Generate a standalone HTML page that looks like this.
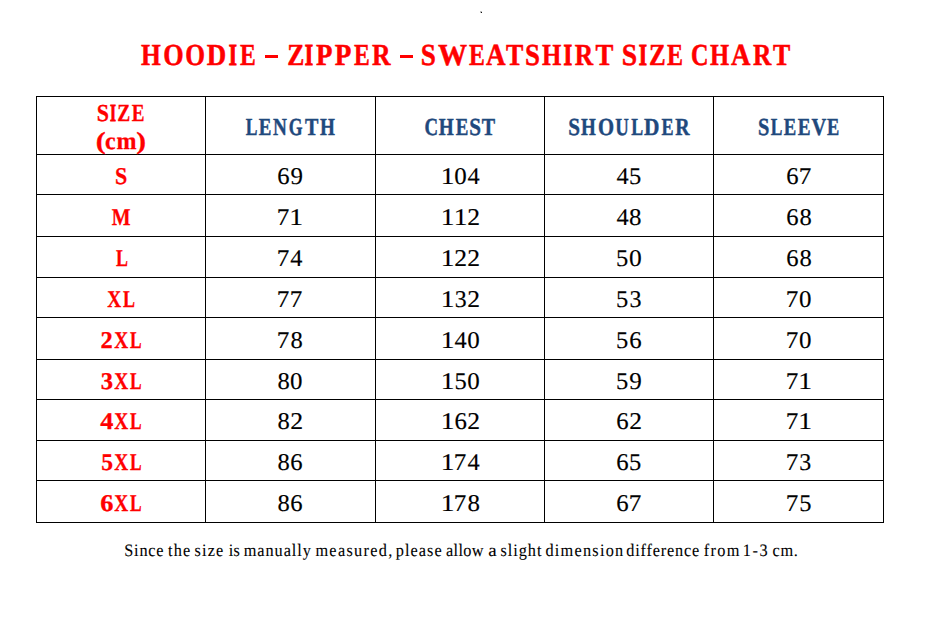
<!DOCTYPE html>
<html><head><meta charset="utf-8"><title>Hoodie Size Chart</title><style>html,body{margin:0;padding:0;background:#fff}body{position:relative;width:940px;height:623px;overflow:hidden;font-family:'Liberation Serif', serif;line-height:1;white-space:nowrap;text-rendering:geometricPrecision}body>div{position:absolute;transform-origin:0 0}.l{background:#000}</style></head><body>
<div style="left:480px;top:11px;width:2px;height:2px;background:#bbb"></div><div style="left:481px;top:12px;width:1px;height:1px;background:#111"></div><div style="left:265px;top:55px;width:13px;height:3px;background:#f00"></div><div style="left:400px;top:55px;width:13px;height:3px;background:#f00"></div>
<div class="l" style="left:36px;top:96px;width:1px;height:427px"></div>
<div class="l" style="left:205px;top:96px;width:1px;height:427px"></div>
<div class="l" style="left:375px;top:96px;width:1px;height:427px"></div>
<div class="l" style="left:544px;top:96px;width:1px;height:427px"></div>
<div class="l" style="left:713px;top:96px;width:1px;height:427px"></div>
<div class="l" style="left:883px;top:96px;width:1px;height:427px"></div>
<div class="l" style="left:36px;top:96px;width:848px;height:1px"></div>
<div class="l" style="left:36px;top:154px;width:848px;height:1px"></div>
<div class="l" style="left:36px;top:194px;width:848px;height:1px"></div>
<div class="l" style="left:36px;top:236px;width:848px;height:1px"></div>
<div class="l" style="left:36px;top:277px;width:848px;height:1px"></div>
<div class="l" style="left:36px;top:317px;width:848px;height:1px"></div>
<div class="l" style="left:36px;top:359px;width:848px;height:1px"></div>
<div class="l" style="left:36px;top:399px;width:848px;height:1px"></div>
<div class="l" style="left:36px;top:440px;width:848px;height:1px"></div>
<div class="l" style="left:36px;top:480px;width:848px;height:1px"></div>
<div class="l" style="left:36px;top:522px;width:848px;height:1px"></div>
<div style="left:141px;top:40px;font-size:30.5px;font-weight:bold;color:#ff0000;-webkit-text-stroke:0.5px #ff0000;transform:translateX(0.05px) scaleX(0.8349)">H</div>
<div style="left:163px;top:40px;font-size:30.5px;font-weight:bold;color:#ff0000;-webkit-text-stroke:0.5px #ff0000;transform:translateX(0.30px) scaleX(0.8591)">O</div>
<div style="left:185px;top:40px;font-size:30.5px;font-weight:bold;color:#ff0000;-webkit-text-stroke:0.5px #ff0000;transform:translateX(0.36px) scaleX(0.8332)">O</div>
<div style="left:206px;top:40px;font-size:30.5px;font-weight:bold;color:#ff0000;-webkit-text-stroke:0.5px #ff0000;transform:translateX(0.85px) scaleX(0.8838)">D</div>
<div style="left:228px;top:40px;font-size:30.5px;font-weight:bold;color:#ff0000;-webkit-text-stroke:1.1px #ff0000;transform:translateX(0.87px) scaleX(0.6862)">I</div>
<div style="left:240px;top:40px;font-size:30.5px;font-weight:bold;color:#ff0000;-webkit-text-stroke:0.5px #ff0000;transform:translateX(0.02px) scaleX(0.7744)">E</div>
<div style="left:287px;top:40px;font-size:30.5px;font-weight:bold;color:#ff0000;-webkit-text-stroke:0.5px #ff0000;transform:translateX(0.18px) scaleX(0.8407)">Z</div>
<div style="left:304px;top:40px;font-size:30.5px;font-weight:bold;color:#ff0000;-webkit-text-stroke:1.1px #ff0000;transform:translateX(0.72px) scaleX(0.7033)">I</div>
<div style="left:315px;top:40px;font-size:30.5px;font-weight:bold;color:#ff0000;-webkit-text-stroke:0.5px #ff0000;transform:translateX(0.88px) scaleX(0.8822)">P</div>
<div style="left:334px;top:40px;font-size:30.5px;font-weight:bold;color:#ff0000;-webkit-text-stroke:0.5px #ff0000;transform:translateX(0.87px) scaleX(0.8911)">P</div>
<div style="left:354px;top:40px;font-size:30.5px;font-weight:bold;color:#ff0000;-webkit-text-stroke:0.5px #ff0000;transform:scaleX(0.7738)">E</div>
<div style="left:371px;top:40px;font-size:30.5px;font-weight:bold;color:#ff0000;-webkit-text-stroke:0.5px #ff0000;transform:translateX(0.94px) scaleX(0.8416)">R</div>
<div style="left:420px;top:40px;font-size:30.5px;font-weight:bold;color:#ff0000;-webkit-text-stroke:0.5px #ff0000;transform:translateX(0.84px) scaleX(0.8896)">S</div>
<div style="left:437px;top:40px;font-size:30.5px;font-weight:bold;color:#ff0000;-webkit-text-stroke:0.5px #ff0000;transform:translateX(0.95px) scaleX(0.9534)">W</div>
<div style="left:468px;top:40px;font-size:30.5px;font-weight:bold;color:#ff0000;-webkit-text-stroke:0.5px #ff0000;transform:translateX(0.92px) scaleX(0.7781)">E</div>
<div style="left:485px;top:40px;font-size:30.5px;font-weight:bold;color:#ff0000;-webkit-text-stroke:0.5px #ff0000;transform:translateX(0.88px) scaleX(0.8907)">A</div>
<div style="left:505px;top:40px;font-size:30.5px;font-weight:bold;color:#ff0000;-webkit-text-stroke:0.5px #ff0000;transform:translateX(1.00px) scaleX(0.8509)">T</div>
<div style="left:524px;top:40px;font-size:30.5px;font-weight:bold;color:#ff0000;-webkit-text-stroke:0.5px #ff0000;transform:translateX(0.97px) scaleX(0.8791)">S</div>
<div style="left:542px;top:40px;font-size:30.5px;font-weight:bold;color:#ff0000;-webkit-text-stroke:0.5px #ff0000;transform:translateX(0.07px) scaleX(0.8136)">H</div>
<div style="left:563px;top:40px;font-size:30.5px;font-weight:bold;color:#ff0000;-webkit-text-stroke:1.1px #ff0000;transform:translateX(0.49px) scaleX(0.7293)">I</div>
<div style="left:574px;top:40px;font-size:30.5px;font-weight:bold;color:#ff0000;-webkit-text-stroke:0.5px #ff0000;transform:translateX(0.82px) scaleX(0.8362)">R</div>
<div style="left:595px;top:40px;font-size:30.5px;font-weight:bold;color:#ff0000;-webkit-text-stroke:0.5px #ff0000;transform:translateX(0.49px) scaleX(0.8770)">T</div>
<div style="left:621px;top:40px;font-size:30.5px;font-weight:bold;color:#ff0000;-webkit-text-stroke:0.5px #ff0000;transform:translateX(0.80px) scaleX(0.9063)">S</div>
<div style="left:638px;top:40px;font-size:30.5px;font-weight:bold;color:#ff0000;-webkit-text-stroke:1.1px #ff0000;transform:translateX(0.65px) scaleX(0.6948)">I</div>
<div style="left:649px;top:40px;font-size:30.5px;font-weight:bold;color:#ff0000;-webkit-text-stroke:0.5px #ff0000;transform:translateX(0.11px) scaleX(0.8189)">Z</div>
<div style="left:666px;top:40px;font-size:30.5px;font-weight:bold;color:#ff0000;-webkit-text-stroke:0.5px #ff0000;transform:translateX(0.92px) scaleX(0.7868)">E</div>
<div style="left:691px;top:40px;font-size:30.5px;font-weight:bold;color:#ff0000;-webkit-text-stroke:0.5px #ff0000;transform:translateX(0.07px) scaleX(0.7941)">C</div>
<div style="left:710px;top:40px;font-size:30.5px;font-weight:bold;color:#ff0000;-webkit-text-stroke:0.5px #ff0000;transform:translateX(0.08px) scaleX(0.8068)">H</div>
<div style="left:730px;top:40px;font-size:30.5px;font-weight:bold;color:#ff0000;-webkit-text-stroke:0.5px #ff0000;transform:translateX(0.88px) scaleX(0.8855)">A</div>
<div style="left:752px;top:40px;font-size:30.5px;font-weight:bold;color:#ff0000;-webkit-text-stroke:0.5px #ff0000;transform:translateX(0.97px) scaleX(0.8325)">R</div>
<div style="left:772px;top:40px;font-size:30.5px;font-weight:bold;color:#ff0000;-webkit-text-stroke:0.5px #ff0000;transform:translateX(0.92px) scaleX(0.8490)">T</div>
<div style="left:96px;top:102px;font-size:24.5px;font-weight:bold;color:#ff0000;-webkit-text-stroke:0.3px #ff0000;transform:translateX(0.75px) scaleX(0.8954)">S</div>
<div style="left:109px;top:102px;font-size:24.5px;font-weight:bold;color:#ff0000;-webkit-text-stroke:0.8999999999999999px #ff0000;transform:translateX(0.95px) scaleX(0.6274)">I</div>
<div style="left:117px;top:102px;font-size:24.5px;font-weight:bold;color:#ff0000;-webkit-text-stroke:0.3px #ff0000;transform:translateX(0.30px) scaleX(0.7955)">Z</div>
<div style="left:131px;top:102px;font-size:24.5px;font-weight:bold;color:#ff0000;-webkit-text-stroke:0.3px #ff0000;transform:translateX(0.83px) scaleX(0.7802)">E</div>
<div style="left:95px;top:130px;font-size:24.5px;font-weight:bold;color:#ff0000;-webkit-text-stroke:0.3px #ff0000;transform:translateX(0.74px) scaleX(1.2201)">(</div>
<div style="left:105px;top:130px;font-size:24.5px;font-weight:bold;color:#ff0000;-webkit-text-stroke:0.3px #ff0000;transform:translateX(0.10px) scaleX(0.9724)">c</div>
<div style="left:116px;top:130px;font-size:24.5px;font-weight:bold;color:#ff0000;-webkit-text-stroke:0.3px #ff0000;transform:translateX(0.46px) scaleX(0.9806)">m</div>
<div style="left:136px;top:130px;font-size:24.5px;font-weight:bold;color:#ff0000;-webkit-text-stroke:0.3px #ff0000;transform:translateX(0.13px) scaleX(1.1995)">)</div>
<div style="left:245px;top:116px;font-size:24.5px;font-weight:bold;color:#1f497d;-webkit-text-stroke:0.45px #1f497d;transform:translateX(0.81px) scaleX(0.7146)">L</div>
<div style="left:258px;top:116px;font-size:24.5px;font-weight:bold;color:#1f497d;-webkit-text-stroke:0.45px #1f497d;transform:translateX(0.87px) scaleX(0.7715)">E</div>
<div style="left:273px;top:116px;font-size:24.5px;font-weight:bold;color:#1f497d;-webkit-text-stroke:0.45px #1f497d;transform:translateX(0.06px) scaleX(0.7844)">N</div>
<div style="left:288px;top:116px;font-size:24.5px;font-weight:bold;color:#1f497d;-webkit-text-stroke:0.45px #1f497d;transform:translateX(0.87px) scaleX(0.7236)">G</div>
<div style="left:304px;top:116px;font-size:24.5px;font-weight:bold;color:#1f497d;-webkit-text-stroke:0.45px #1f497d;transform:translateX(0.88px) scaleX(0.8202)">T</div>
<div style="left:319px;top:116px;font-size:24.5px;font-weight:bold;color:#1f497d;-webkit-text-stroke:0.45px #1f497d;transform:translateX(0.99px) scaleX(0.7805)">H</div>
<div style="left:424px;top:116px;font-size:24.5px;font-weight:bold;color:#1f497d;-webkit-text-stroke:0.45px #1f497d;transform:translateX(0.56px) scaleX(0.7670)">C</div>
<div style="left:438px;top:116px;font-size:24.5px;font-weight:bold;color:#1f497d;-webkit-text-stroke:0.45px #1f497d;transform:translateX(0.81px) scaleX(0.7852)">H</div>
<div style="left:455px;top:116px;font-size:24.5px;font-weight:bold;color:#1f497d;-webkit-text-stroke:0.45px #1f497d;transform:translateX(0.71px) scaleX(0.7723)">E</div>
<div style="left:469px;top:116px;font-size:24.5px;font-weight:bold;color:#1f497d;-webkit-text-stroke:0.45px #1f497d;transform:translateX(0.14px) scaleX(0.8621)">S</div>
<div style="left:481px;top:116px;font-size:24.5px;font-weight:bold;color:#1f497d;-webkit-text-stroke:0.45px #1f497d;transform:translateX(0.76px) scaleX(0.8163)">T</div>
<div style="left:568px;top:116px;font-size:24.5px;font-weight:bold;color:#1f497d;-webkit-text-stroke:0.45px #1f497d;transform:translateX(0.14px) scaleX(0.8621)">S</div>
<div style="left:581px;top:116px;font-size:24.5px;font-weight:bold;color:#1f497d;-webkit-text-stroke:0.45px #1f497d;transform:translateX(0.12px) scaleX(0.7755)">H</div>
<div style="left:597px;top:116px;font-size:24.5px;font-weight:bold;color:#1f497d;-webkit-text-stroke:0.45px #1f497d;transform:translateX(0.95px) scaleX(0.8439)">O</div>
<div style="left:615px;top:116px;font-size:24.5px;font-weight:bold;color:#1f497d;-webkit-text-stroke:0.45px #1f497d;transform:translateX(0.18px) scaleX(0.7668)">U</div>
<div style="left:631px;top:116px;font-size:24.5px;font-weight:bold;color:#1f497d;-webkit-text-stroke:0.45px #1f497d;transform:translateX(0.19px) scaleX(0.7271)">L</div>
<div style="left:644px;top:116px;font-size:24.5px;font-weight:bold;color:#1f497d;-webkit-text-stroke:0.45px #1f497d;transform:translateX(0.07px) scaleX(0.8710)">D</div>
<div style="left:661px;top:116px;font-size:24.5px;font-weight:bold;color:#1f497d;-webkit-text-stroke:0.45px #1f497d;transform:translateX(0.45px) scaleX(0.7363)">E</div>
<div style="left:675px;top:116px;font-size:24.5px;font-weight:bold;color:#1f497d;-webkit-text-stroke:0.45px #1f497d;transform:translateX(0.25px) scaleX(0.8106)">R</div>
<div style="left:758px;top:116px;font-size:24.5px;font-weight:bold;color:#1f497d;-webkit-text-stroke:0.45px #1f497d;transform:translateX(0.11px) scaleX(0.8330)">S</div>
<div style="left:770px;top:116px;font-size:24.5px;font-weight:bold;color:#1f497d;-webkit-text-stroke:0.45px #1f497d;transform:translateX(0.73px) scaleX(0.7111)">L</div>
<div style="left:783px;top:116px;font-size:24.5px;font-weight:bold;color:#1f497d;-webkit-text-stroke:0.45px #1f497d;transform:translateX(0.82px) scaleX(0.7616)">E</div>
<div style="left:797px;top:116px;font-size:24.5px;font-weight:bold;color:#1f497d;-webkit-text-stroke:0.45px #1f497d;transform:translateX(0.70px) scaleX(0.7824)">E</div>
<div style="left:811px;top:116px;font-size:24.5px;font-weight:bold;color:#1f497d;-webkit-text-stroke:0.45px #1f497d;transform:translateX(0.41px) scaleX(0.8338)">V</div>
<div style="left:827px;top:116px;font-size:24.5px;font-weight:bold;color:#1f497d;-webkit-text-stroke:0.45px #1f497d;transform:translateX(0.02px) scaleX(0.7500)">E</div>
<div style="left:115px;top:165px;font-size:24px;font-weight:bold;color:#ff0000;-webkit-text-stroke:0.3px #ff0000;transform:translateX(0.07px) scaleX(0.9150)">S</div>
<div style="left:277px;top:165px;font-size:24px;color:#000000;-webkit-text-stroke:0.15px #000000;transform:translateX(0.14px) scaleX(1.0260)">6</div>
<div style="left:290px;top:165px;font-size:24px;color:#000000;-webkit-text-stroke:0.15px #000000;transform:translateX(0.42px) scaleX(1.0391)">9</div>
<div style="left:440px;top:165px;font-size:24px;color:#000000;-webkit-text-stroke:0.15px #000000;transform:translateX(0.64px) scaleX(1.1430)">1</div>
<div style="left:454px;top:165px;font-size:24px;color:#000000;-webkit-text-stroke:0.15px #000000;transform:translateX(0.30px) scaleX(1.0405)">0</div>
<div style="left:467px;top:165px;font-size:24px;color:#000000;-webkit-text-stroke:0.15px #000000;transform:translateX(0.50px) scaleX(1.0147)">4</div>
<div style="left:616px;top:165px;font-size:24px;color:#000000;-webkit-text-stroke:0.15px #000000;transform:translateX(0.41px) scaleX(1.0151)">4</div>
<div style="left:629px;top:165px;font-size:24px;color:#000000;-webkit-text-stroke:0.15px #000000;transform:translateX(0.07px) scaleX(1.0216)">5</div>
<div style="left:786px;top:165px;font-size:24px;color:#000000;-webkit-text-stroke:0.15px #000000;transform:translateX(0.14px) scaleX(1.0260)">6</div>
<div style="left:798px;top:165px;font-size:24px;color:#000000;-webkit-text-stroke:0.15px #000000;transform:translateX(0.79px) scaleX(1.0487)">7</div>
<div style="left:111px;top:206px;font-size:24px;font-weight:bold;color:#ff0000;-webkit-text-stroke:0.3px #ff0000;transform:translateX(0.64px) scaleX(0.8285)">M</div>
<div style="left:276px;top:206px;font-size:24px;color:#000000;-webkit-text-stroke:0.15px #000000;transform:translateX(0.79px) scaleX(1.0487)">7</div>
<div style="left:289px;top:206px;font-size:24px;color:#000000;-webkit-text-stroke:0.15px #000000;transform:translateX(0.20px) scaleX(1.1512)">1</div>
<div style="left:440px;top:206px;font-size:24px;color:#000000;-webkit-text-stroke:0.15px #000000;transform:translateX(0.64px) scaleX(1.1430)">1</div>
<div style="left:453px;top:206px;font-size:24px;color:#000000;-webkit-text-stroke:0.15px #000000;transform:translateX(0.64px) scaleX(1.1430)">1</div>
<div style="left:467px;top:206px;font-size:24px;color:#000000;-webkit-text-stroke:0.15px #000000;transform:translateX(0.37px) scaleX(1.0687)">2</div>
<div style="left:616px;top:206px;font-size:24px;color:#000000;-webkit-text-stroke:0.15px #000000;transform:translateX(0.41px) scaleX(1.0151)">4</div>
<div style="left:628px;top:206px;font-size:24px;color:#000000;-webkit-text-stroke:0.15px #000000;transform:translateX(0.96px) scaleX(1.0387)">8</div>
<div style="left:786px;top:206px;font-size:24px;color:#000000;-webkit-text-stroke:0.15px #000000;transform:translateX(0.14px) scaleX(1.0260)">6</div>
<div style="left:799px;top:206px;font-size:24px;color:#000000;-webkit-text-stroke:0.15px #000000;transform:translateX(0.44px) scaleX(1.0227)">8</div>
<div style="left:115px;top:247px;font-size:24px;font-weight:bold;color:#ff0000;-webkit-text-stroke:0.3px #ff0000;transform:translateX(0.88px) scaleX(0.7477)">L</div>
<div style="left:276px;top:247px;font-size:24px;color:#000000;-webkit-text-stroke:0.15px #000000;transform:translateX(0.79px) scaleX(1.0487)">7</div>
<div style="left:290px;top:247px;font-size:24px;color:#000000;-webkit-text-stroke:0.15px #000000;transform:translateX(0.36px) scaleX(1.0134)">4</div>
<div style="left:440px;top:247px;font-size:24px;color:#000000;-webkit-text-stroke:0.15px #000000;transform:translateX(0.64px) scaleX(1.1430)">1</div>
<div style="left:454px;top:247px;font-size:24px;color:#000000;-webkit-text-stroke:0.15px #000000;transform:translateX(0.37px) scaleX(1.0687)">2</div>
<div style="left:467px;top:247px;font-size:24px;color:#000000;-webkit-text-stroke:0.15px #000000;transform:translateX(0.37px) scaleX(1.0687)">2</div>
<div style="left:616px;top:247px;font-size:24px;color:#000000;-webkit-text-stroke:0.15px #000000;transform:translateX(0.07px) scaleX(1.0216)">5</div>
<div style="left:629px;top:247px;font-size:24px;color:#000000;-webkit-text-stroke:0.15px #000000;transform:translateX(0.04px) scaleX(1.0622)">0</div>
<div style="left:786px;top:247px;font-size:24px;color:#000000;-webkit-text-stroke:0.15px #000000;transform:translateX(0.14px) scaleX(1.0260)">6</div>
<div style="left:799px;top:247px;font-size:24px;color:#000000;-webkit-text-stroke:0.15px #000000;transform:translateX(0.44px) scaleX(1.0227)">8</div>
<div style="left:107px;top:288px;font-size:24px;font-weight:bold;color:#ff0000;-webkit-text-stroke:0.3px #ff0000;transform:translateX(0.16px) scaleX(0.8042)">X</div>
<div style="left:122px;top:288px;font-size:24px;font-weight:bold;color:#ff0000;-webkit-text-stroke:0.3px #ff0000;transform:translateX(0.94px) scaleX(0.7511)">L</div>
<div style="left:276px;top:288px;font-size:24px;color:#000000;-webkit-text-stroke:0.15px #000000;transform:translateX(0.79px) scaleX(1.0487)">7</div>
<div style="left:289px;top:288px;font-size:24px;color:#000000;-webkit-text-stroke:0.15px #000000;transform:translateX(0.79px) scaleX(1.0487)">7</div>
<div style="left:440px;top:288px;font-size:24px;color:#000000;-webkit-text-stroke:0.15px #000000;transform:translateX(0.64px) scaleX(1.1430)">1</div>
<div style="left:454px;top:288px;font-size:24px;color:#000000;-webkit-text-stroke:0.15px #000000;transform:translateX(0.76px) scaleX(0.9921)">3</div>
<div style="left:467px;top:288px;font-size:24px;color:#000000;-webkit-text-stroke:0.15px #000000;transform:translateX(0.37px) scaleX(1.0687)">2</div>
<div style="left:616px;top:288px;font-size:24px;color:#000000;-webkit-text-stroke:0.15px #000000;transform:translateX(0.07px) scaleX(1.0216)">5</div>
<div style="left:629px;top:288px;font-size:24px;color:#000000;-webkit-text-stroke:0.15px #000000;transform:translateX(0.41px) scaleX(0.9996)">3</div>
<div style="left:785px;top:288px;font-size:24px;color:#000000;-webkit-text-stroke:0.15px #000000;transform:translateX(0.79px) scaleX(1.0487)">7</div>
<div style="left:799px;top:288px;font-size:24px;color:#000000;-webkit-text-stroke:0.15px #000000;transform:translateX(0.10px) scaleX(1.0379)">0</div>
<div style="left:100px;top:329px;font-size:24px;font-weight:bold;color:#ff0000;-webkit-text-stroke:0.3px #ff0000;transform:translateX(0.50px) scaleX(1.0184)">2</div>
<div style="left:114px;top:329px;font-size:24px;font-weight:bold;color:#ff0000;-webkit-text-stroke:0.3px #ff0000;transform:translateX(0.16px) scaleX(0.8042)">X</div>
<div style="left:130px;top:329px;font-size:24px;font-weight:bold;color:#ff0000;-webkit-text-stroke:0.3px #ff0000;transform:translateX(0.04px) scaleX(0.7253)">L</div>
<div style="left:276px;top:329px;font-size:24px;color:#000000;-webkit-text-stroke:0.15px #000000;transform:translateX(0.79px) scaleX(1.0487)">7</div>
<div style="left:290px;top:329px;font-size:24px;color:#000000;-webkit-text-stroke:0.15px #000000;transform:translateX(0.44px) scaleX(1.0227)">8</div>
<div style="left:440px;top:329px;font-size:24px;color:#000000;-webkit-text-stroke:0.15px #000000;transform:translateX(0.64px) scaleX(1.1430)">1</div>
<div style="left:454px;top:329px;font-size:24px;color:#000000;-webkit-text-stroke:0.15px #000000;transform:translateX(0.50px) scaleX(1.0147)">4</div>
<div style="left:467px;top:329px;font-size:24px;color:#000000;-webkit-text-stroke:0.15px #000000;transform:translateX(0.30px) scaleX(1.0405)">0</div>
<div style="left:616px;top:329px;font-size:24px;color:#000000;-webkit-text-stroke:0.15px #000000;transform:translateX(0.07px) scaleX(1.0216)">5</div>
<div style="left:629px;top:329px;font-size:24px;color:#000000;-webkit-text-stroke:0.15px #000000;transform:translateX(0.20px) scaleX(1.0325)">6</div>
<div style="left:785px;top:329px;font-size:24px;color:#000000;-webkit-text-stroke:0.15px #000000;transform:translateX(0.79px) scaleX(1.0487)">7</div>
<div style="left:799px;top:329px;font-size:24px;color:#000000;-webkit-text-stroke:0.15px #000000;transform:translateX(0.10px) scaleX(1.0379)">0</div>
<div style="left:100px;top:370px;font-size:24px;font-weight:bold;color:#ff0000;-webkit-text-stroke:0.3px #ff0000;transform:translateX(0.66px) scaleX(1.0223)">3</div>
<div style="left:114px;top:370px;font-size:24px;font-weight:bold;color:#ff0000;-webkit-text-stroke:0.3px #ff0000;transform:translateX(0.16px) scaleX(0.8042)">X</div>
<div style="left:130px;top:370px;font-size:24px;font-weight:bold;color:#ff0000;-webkit-text-stroke:0.3px #ff0000;transform:translateX(0.04px) scaleX(0.7253)">L</div>
<div style="left:277px;top:370px;font-size:24px;color:#000000;-webkit-text-stroke:0.15px #000000;transform:translateX(0.44px) scaleX(1.0227)">8</div>
<div style="left:290px;top:370px;font-size:24px;color:#000000;-webkit-text-stroke:0.15px #000000;transform:translateX(0.10px) scaleX(1.0379)">0</div>
<div style="left:440px;top:370px;font-size:24px;color:#000000;-webkit-text-stroke:0.15px #000000;transform:translateX(0.64px) scaleX(1.1430)">1</div>
<div style="left:454px;top:370px;font-size:24px;color:#000000;-webkit-text-stroke:0.15px #000000;transform:translateX(0.38px) scaleX(1.0207)">5</div>
<div style="left:467px;top:370px;font-size:24px;color:#000000;-webkit-text-stroke:0.15px #000000;transform:translateX(0.30px) scaleX(1.0405)">0</div>
<div style="left:616px;top:370px;font-size:24px;color:#000000;-webkit-text-stroke:0.15px #000000;transform:translateX(0.07px) scaleX(1.0216)">5</div>
<div style="left:629px;top:370px;font-size:24px;color:#000000;-webkit-text-stroke:0.15px #000000;transform:translateX(0.37px) scaleX(1.0457)">9</div>
<div style="left:785px;top:370px;font-size:24px;color:#000000;-webkit-text-stroke:0.15px #000000;transform:translateX(0.79px) scaleX(1.0487)">7</div>
<div style="left:798px;top:370px;font-size:24px;color:#000000;-webkit-text-stroke:0.15px #000000;transform:translateX(0.20px) scaleX(1.1512)">1</div>
<div style="left:100px;top:410px;font-size:24px;font-weight:bold;color:#ff0000;-webkit-text-stroke:0.3px #ff0000;transform:translateX(0.24px) scaleX(1.0929)">4</div>
<div style="left:114px;top:410px;font-size:24px;font-weight:bold;color:#ff0000;-webkit-text-stroke:0.3px #ff0000;transform:translateX(0.16px) scaleX(0.8042)">X</div>
<div style="left:130px;top:410px;font-size:24px;font-weight:bold;color:#ff0000;-webkit-text-stroke:0.3px #ff0000;transform:translateX(0.04px) scaleX(0.7253)">L</div>
<div style="left:277px;top:410px;font-size:24px;color:#000000;-webkit-text-stroke:0.15px #000000;transform:translateX(0.44px) scaleX(1.0227)">8</div>
<div style="left:290px;top:410px;font-size:24px;color:#000000;-webkit-text-stroke:0.15px #000000;transform:translateX(0.37px) scaleX(1.0748)">2</div>
<div style="left:440px;top:410px;font-size:24px;color:#000000;-webkit-text-stroke:0.15px #000000;transform:translateX(0.64px) scaleX(1.1430)">1</div>
<div style="left:454px;top:410px;font-size:24px;color:#000000;-webkit-text-stroke:0.15px #000000;transform:translateX(0.41px) scaleX(1.0335)">6</div>
<div style="left:467px;top:410px;font-size:24px;color:#000000;-webkit-text-stroke:0.15px #000000;transform:translateX(0.37px) scaleX(1.0687)">2</div>
<div style="left:616px;top:410px;font-size:24px;color:#000000;-webkit-text-stroke:0.15px #000000;transform:translateX(0.20px) scaleX(1.0325)">6</div>
<div style="left:629px;top:410px;font-size:24px;color:#000000;-webkit-text-stroke:0.15px #000000;transform:translateX(0.17px) scaleX(1.0678)">2</div>
<div style="left:785px;top:410px;font-size:24px;color:#000000;-webkit-text-stroke:0.15px #000000;transform:translateX(0.79px) scaleX(1.0487)">7</div>
<div style="left:798px;top:410px;font-size:24px;color:#000000;-webkit-text-stroke:0.15px #000000;transform:translateX(0.20px) scaleX(1.1512)">1</div>
<div style="left:101px;top:451px;font-size:24px;font-weight:bold;color:#ff0000;-webkit-text-stroke:0.3px #ff0000;transform:translateX(0.19px) scaleX(0.9816)">5</div>
<div style="left:114px;top:451px;font-size:24px;font-weight:bold;color:#ff0000;-webkit-text-stroke:0.3px #ff0000;transform:translateX(0.16px) scaleX(0.8042)">X</div>
<div style="left:130px;top:451px;font-size:24px;font-weight:bold;color:#ff0000;-webkit-text-stroke:0.3px #ff0000;transform:translateX(0.04px) scaleX(0.7253)">L</div>
<div style="left:277px;top:451px;font-size:24px;color:#000000;-webkit-text-stroke:0.15px #000000;transform:translateX(0.44px) scaleX(1.0227)">8</div>
<div style="left:290px;top:451px;font-size:24px;color:#000000;-webkit-text-stroke:0.15px #000000;transform:translateX(0.14px) scaleX(1.0260)">6</div>
<div style="left:440px;top:451px;font-size:24px;color:#000000;-webkit-text-stroke:0.15px #000000;transform:translateX(0.64px) scaleX(1.1430)">1</div>
<div style="left:453px;top:451px;font-size:24px;color:#000000;-webkit-text-stroke:0.15px #000000;transform:translateX(0.84px) scaleX(1.0445)">7</div>
<div style="left:467px;top:451px;font-size:24px;color:#000000;-webkit-text-stroke:0.15px #000000;transform:translateX(0.50px) scaleX(1.0147)">4</div>
<div style="left:616px;top:451px;font-size:24px;color:#000000;-webkit-text-stroke:0.15px #000000;transform:translateX(0.20px) scaleX(1.0325)">6</div>
<div style="left:629px;top:451px;font-size:24px;color:#000000;-webkit-text-stroke:0.15px #000000;transform:translateX(0.07px) scaleX(1.0216)">5</div>
<div style="left:785px;top:451px;font-size:24px;color:#000000;-webkit-text-stroke:0.15px #000000;transform:translateX(0.79px) scaleX(1.0487)">7</div>
<div style="left:799px;top:451px;font-size:24px;color:#000000;-webkit-text-stroke:0.15px #000000;transform:translateX(0.33px) scaleX(0.9973)">3</div>
<div style="left:100px;top:492px;font-size:24px;font-weight:bold;color:#ff0000;-webkit-text-stroke:0.3px #ff0000;transform:translateX(0.33px) scaleX(1.0980)">6</div>
<div style="left:114px;top:492px;font-size:24px;font-weight:bold;color:#ff0000;-webkit-text-stroke:0.3px #ff0000;transform:translateX(0.16px) scaleX(0.8042)">X</div>
<div style="left:130px;top:492px;font-size:24px;font-weight:bold;color:#ff0000;-webkit-text-stroke:0.3px #ff0000;transform:translateX(0.04px) scaleX(0.7253)">L</div>
<div style="left:277px;top:492px;font-size:24px;color:#000000;-webkit-text-stroke:0.15px #000000;transform:translateX(0.44px) scaleX(1.0227)">8</div>
<div style="left:290px;top:492px;font-size:24px;color:#000000;-webkit-text-stroke:0.15px #000000;transform:translateX(0.14px) scaleX(1.0260)">6</div>
<div style="left:440px;top:492px;font-size:24px;color:#000000;-webkit-text-stroke:0.15px #000000;transform:translateX(0.64px) scaleX(1.1430)">1</div>
<div style="left:453px;top:492px;font-size:24px;color:#000000;-webkit-text-stroke:0.15px #000000;transform:translateX(0.84px) scaleX(1.0445)">7</div>
<div style="left:467px;top:492px;font-size:24px;color:#000000;-webkit-text-stroke:0.15px #000000;transform:translateX(0.40px) scaleX(1.0395)">8</div>
<div style="left:616px;top:492px;font-size:24px;color:#000000;-webkit-text-stroke:0.15px #000000;transform:translateX(0.20px) scaleX(1.0325)">6</div>
<div style="left:628px;top:492px;font-size:24px;color:#000000;-webkit-text-stroke:0.15px #000000;transform:translateX(0.82px) scaleX(1.0490)">7</div>
<div style="left:785px;top:492px;font-size:24px;color:#000000;-webkit-text-stroke:0.15px #000000;transform:translateX(0.79px) scaleX(1.0487)">7</div>
<div style="left:799px;top:492px;font-size:24px;color:#000000;-webkit-text-stroke:0.15px #000000;transform:translateX(0.18px) scaleX(1.0208)">5</div>
<div style="left:124px;top:542px;font-size:17.5px;color:#000000;letter-spacing:0.830px;-webkit-text-stroke:0.1px #000000;transform:translateX(0.29px) scaleX(0.9300)">Since</div>
<div style="left:167px;top:542px;font-size:17.5px;color:#000000;letter-spacing:1.315px;-webkit-text-stroke:0.1px #000000;transform:translateX(0.96px) scaleX(0.9300)">the</div>
<div style="left:194px;top:542px;font-size:17.5px;color:#000000;letter-spacing:1.298px;-webkit-text-stroke:0.1px #000000;transform:translateX(0.42px) scaleX(0.9300)">size</div>
<div style="left:228px;top:542px;font-size:17.5px;color:#000000;letter-spacing:0.011px;-webkit-text-stroke:0.1px #000000;transform:translateX(0.85px) scaleX(0.9300)">is</div>
<div style="left:243px;top:542px;font-size:17.5px;color:#000000;letter-spacing:0.995px;-webkit-text-stroke:0.1px #000000;transform:translateX(0.79px) scaleX(0.9300)">manually</div>
<div style="left:315px;top:542px;font-size:17.5px;color:#000000;letter-spacing:1.394px;-webkit-text-stroke:0.1px #000000;transform:translateX(0.40px) scaleX(0.9300)">measured,</div>
<div style="left:395px;top:542px;font-size:17.5px;color:#000000;letter-spacing:1.113px;-webkit-text-stroke:0.1px #000000;transform:translateX(0.81px) scaleX(0.9300)">please</div>
<div style="left:445px;top:542px;font-size:17.5px;color:#000000;letter-spacing:0.414px;-webkit-text-stroke:0.1px #000000;transform:translateX(0.88px) scaleX(0.9300)">allow</div>
<div style="left:488px;top:542px;font-size:17.5px;color:#000000;-webkit-text-stroke:0.1px #000000;transform:translateX(0.25px) scaleX(1.0777)">a</div>
<div style="left:500px;top:542px;font-size:17.5px;color:#000000;letter-spacing:1.049px;-webkit-text-stroke:0.1px #000000;transform:translateX(0.42px) scaleX(0.9300)">slight</div>
<div style="left:545px;top:542px;font-size:17.5px;color:#000000;letter-spacing:1.339px;-webkit-text-stroke:0.1px #000000;transform:translateX(0.41px) scaleX(0.9300)">dimension</div>
<div style="left:626px;top:542px;font-size:17.5px;color:#000000;letter-spacing:0.887px;-webkit-text-stroke:0.1px #000000;transform:translateX(0.20px) scaleX(0.9300)">difference</div>
<div style="left:703px;top:542px;font-size:17.5px;color:#000000;letter-spacing:1.461px;-webkit-text-stroke:0.1px #000000;transform:translateX(0.73px) scaleX(0.9300)">from</div>
<div style="left:742px;top:542px;font-size:17.5px;color:#000000;letter-spacing:1.662px;-webkit-text-stroke:0.1px #000000;transform:translateX(0.73px) scaleX(0.9300)">1-3</div>
<div style="left:772px;top:542px;font-size:17.5px;color:#000000;letter-spacing:0.794px;-webkit-text-stroke:0.1px #000000;transform:translateX(0.46px) scaleX(0.9300)">cm.</div>
</body></html>
